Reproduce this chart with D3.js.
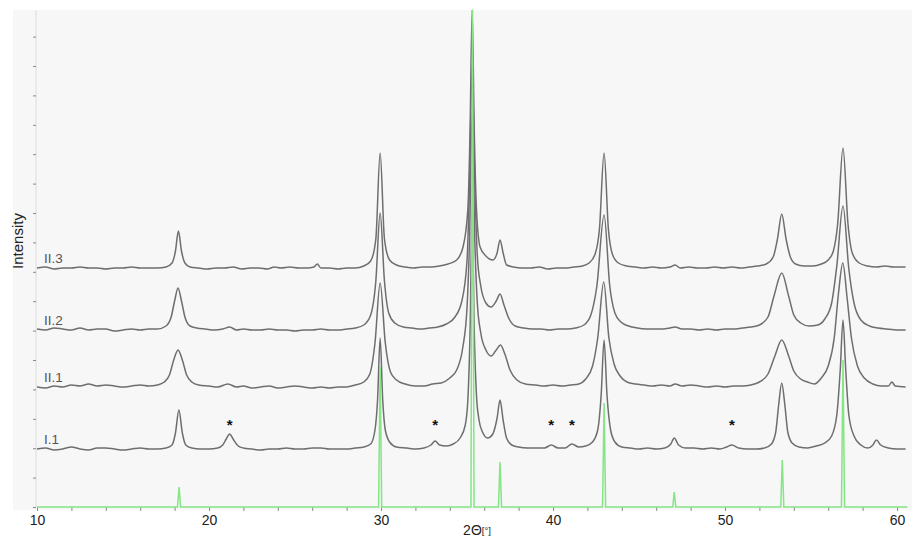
<!DOCTYPE html>
<html>
<head>
<meta charset="utf-8">
<script src="https://cdn.jsdelivr.net/npm/d3@7"></script>
<style>
  body { margin: 0; background: #fff; }
  svg { display: block; font-family: "Liberation Sans", Arial, sans-serif; }
</style>
</head>
<body>
<div id="chart"></div>
<script>
const width = 912;
const height = 539;

// series names and their vertical offsets (intensity units above the reference baseline)
const seriesNames = ["I.1", "II.1", "II.2", "II.3"];
const seriesOffsets = [57, 119, 176, 238];

// [2theta, intensity above own baseline]
const dataI1 = [[10,1],[10.5,2],[11,0],[11.5,1],[12,3],[12.5,1],[13,0],[13.5,2],[14,2],[14.5,1],[15,0],[15.5,1],[16,2],[16.5,1],[17,1],[17.5,2],
  [17.85,5],[18.05,17],[18.25,40],[18.45,17],[18.65,5],[19,2],[19.5,1],[20,1],[20.5,2],
  [20.8,5],[21.0,11],[21.2,16],[21.4,11],[21.7,4],[22,2],[22.5,1],[23,0],[23.5,1],[24,1],[24.5,2],[25,1],[25.5,1],[26,2],[26.5,2],[27,1],[27.5,1],[28,1],[28.5,2],[29,3],[29.4,6],
  [29.65,20],[29.8,50],[29.95,112],[30.1,50],[30.25,20],[30.5,8],[30.9,3],[31.5,2],[32,1],[32.5,2],[32.9,5],[33.15,9],[33.4,5],[33.8,4],[34.2,6],[34.6,12],[34.9,25],
  [35.05,50],[35.18,120],[35.3,243],[35.42,120],[35.55,55],[35.7,30],[35.9,18],[36.2,12],[36.5,16],[36.75,32],[36.92,50],[37.1,30],[37.3,12],[37.6,5],[38,3],[38.5,2],[39,2],[39.5,2],
  [39.9,5],[40.3,2],[40.7,2],[41.1,6],[41.5,3],[41.9,4],[42.3,8],[42.6,20],[42.8,55],[42.97,110],[43.14,55],[43.35,20],[43.6,8],[44,3],[44.5,2],[45,1],[45.5,2],[46,1],[46.5,2],
  [46.85,6],[47.05,12],[47.3,5],[47.7,2],[48.2,2],[48.7,1],[49.2,2],[49.7,1],[50.1,3],[50.4,5],[50.8,2],[51.3,1],[51.8,1],[52.3,2],[52.7,6],[52.95,18],[53.12,45],[53.3,67],
  [53.48,45],[53.65,18],[53.9,7],[54.3,3],[54.8,2],[55.3,4],[55.8,7],[56.2,14],[56.5,35],[56.7,80],[56.86,130],[57.02,80],[57.2,35],[57.5,14],[57.9,5],[58.3,2],[58.6,5],
  [58.8,10],[59.05,5],[59.5,2],[60,1],[60.5,1]];

const dataII1 = [[10,1],[10.5,0],[11,2],[11.5,1],[12,3],[12.5,2],[13,4],[13.5,2],[14,3],[14.5,2],[15,1],[15.5,2],[16,3],[16.5,2],[17,3],[17.4,6],[17.7,13],[17.95,28],[18.2,38],
  [18.45,28],[18.7,13],[19,6],[19.4,3],[20,2],[20.5,1],[21.1,4],[21.6,1],[22,2],[22.5,0],[23,1],[23.5,2],[24,0],[24.5,1],[25,2],[25.5,1],[26,0],[26.5,1],[27,0],[27.5,1],[28,1],
  [28.5,3],[29,6],[29.35,14],[29.65,45],[29.95,105],[30.25,45],[30.55,16],[30.9,8],[31.4,4],[32,2],[32.5,2],[33,4],[33.5,5],[34,10],[34.4,18],[34.75,40],[35.0,80],[35.15,150],
  [35.3,275],[35.45,150],[35.6,85],[35.8,55],[36.1,38],[36.4,32],[36.7,38],[36.95,43],[37.2,34],[37.5,18],[37.9,8],[38.4,4],[39,3],[39.5,2],[40,3],[40.5,2],[41,3],[41.5,4],
  [41.9,9],[42.3,22],[42.6,50],[42.95,106],[43.25,50],[43.55,24],[43.9,12],[44.3,6],[44.8,4],[45.3,3],[45.8,2],[46.3,3],[46.8,2],[47.1,4],[47.5,2],[48,3],[48.5,2],[49,1],
  [49.5,2],[50,1],[50.5,2],[51,2],[51.5,3],[52,6],[52.5,14],[52.9,32],[53.3,48],[53.7,32],[54.0,17],[54.4,9],[54.8,6],[55.2,4],[55.6,10],[56.0,22],[56.35,50],[56.6,95],
  [56.85,125],[57.1,90],[57.35,50],[57.7,22],[58.1,10],[58.6,4],[59.1,2],[59.5,2],[59.7,6],[59.9,2],[60.5,1]];

const dataII2 = [[10,2],[10.5,1],[11,3],[11.5,2],[12,1],[12.5,3],[13,1],[13.5,2],[14,2],[14.5,0],[15,1],[15.5,2],[16,1],[16.5,2],[17,2],[17.5,5],[17.8,14],[18.0,30],[18.2,43],
  [18.4,30],[18.6,14],[18.9,5],[19.3,3],[19.8,2],[20.3,1],[20.8,2],[21.2,4],[21.6,1],[22,2],[22.5,1],[23,1],[23.5,2],[24,1],[24.5,1],[25,0],[25.5,1],[26,1],[26.5,2],[27,1],
  [27.5,1],[28,2],[28.5,3],[29,6],[29.4,16],[29.7,50],[29.95,118],[30.2,50],[30.45,18],[30.8,8],[31.3,4],[31.8,3],[32.3,2],[32.8,3],[33.3,4],[33.8,7],[34.3,14],[34.7,30],
  [35.0,70],[35.15,150],[35.3,266],[35.45,150],[35.6,75],[35.8,45],[36.1,28],[36.4,24],[36.7,30],[36.92,37],[37.15,26],[37.45,12],[37.8,5],[38.3,3],[38.8,2],[39.3,2],[39.8,1],
  [40.3,2],[40.8,2],[41.3,3],[41.8,6],[42.2,16],[42.55,45],[42.97,116],[43.3,45],[43.6,18],[43.95,9],[44.4,5],[44.9,3],[45.4,2],[45.9,2],[46.4,2],[46.8,3],[47.1,4],[47.5,2],
  [48,2],[48.5,1],[49,2],[49.5,1],[50,2],[50.5,2],[51,3],[51.5,4],[52,6],[52.5,14],[52.85,35],[53.3,58],[53.7,35],[54.0,16],[54.4,8],[54.9,5],[55.4,6],[55.8,12],[56.2,28],
  [56.5,65],[56.86,125],[57.2,62],[57.5,28],[57.9,11],[58.4,5],[58.9,3],[59.4,2],[60,1],[60.5,1]];

const dataII3 = [[10,1],[10.5,2],[11,0],[11.5,1],[12,1],[12.5,2],[13,1],[13.5,1],[14,0],[14.5,1],[15,1],[15.5,2],[16,1],[16.5,1],[17,1],[17.5,2],[17.85,6],[18.05,18],[18.22,38],
  [18.4,18],[18.6,6],[18.9,2],[19.4,1],[19.9,0],[20.4,1],[20.9,1],[21.4,2],[21.9,0],[22.4,1],[22.9,1],[23.4,0],[23.8,2],[24.2,1],[24.7,2],[25.2,1],[25.7,1],[26.1,2],[26.3,5],
  [26.5,1],[27,1],[27.5,0],[28,1],[28.5,1],[29,3],[29.4,8],[29.7,30],[29.95,116],[30.2,30],[30.5,9],[30.9,4],[31.4,2],[31.9,1],[32.4,2],[32.9,2],[33.4,3],[33.9,5],[34.4,9],
  [34.77,22],[35.05,60],[35.18,140],[35.3,259],[35.42,140],[35.55,60],[35.76,22],[36.1,13],[36.5,9],[36.75,16],[36.92,29],[37.1,16],[37.3,4],[37.7,2],[38.2,1],[38.7,1],[39.2,2],
  [39.7,0],[40.2,1],[40.7,1],[41.2,2],[41.7,3],[42.1,6],[42.45,15],[42.7,40],[42.97,116],[43.22,40],[43.45,15],[43.8,6],[44.3,3],[44.8,2],[45.3,1],[45.8,2],[46.3,1],[46.8,2],
  [47.1,4],[47.4,1],[47.9,2],[48.4,1],[48.9,1],[49.4,2],[49.9,1],[50.4,2],[50.9,1],[51.4,2],[51.9,3],[52.4,5],[52.8,12],[53.05,30],[53.3,55],[53.55,30],[53.8,12],[54.1,5],
  [54.6,3],[55.1,3],[55.6,5],[56.0,9],[56.3,18],[56.55,45],[56.86,121],[57.15,45],[57.4,16],[57.8,6],[58.3,3],[58.8,2],[59.3,3],[59.8,2],[60.5,2]];

// reference pattern (green sticks): position, intensity
const refPos = [18.26, 29.95, 35.32, 36.92, 42.97, 47.05, 53.33, 56.86];
const refInt = [20, 140, 497, 45, 104, 15, 47, 147];

// impurity markers on I.1
const starPos = [21.2, 33.15, 39.9, 41.1, 50.4];

const xTickValues = [10,12,14,16,18,20,22,24,26,28,30,32,34,36,38,40,42,44,46,48,50,52,54,56,58,60];
const xLabelValues = [10, 20, 30, 40, 50, 60];
const yTickValues = [0,29.4,58.8,88.2,117.6,147,176.4,205.8,235.2,264.6,294,323.4,352.8,382.2,411.6,441,470.4];

const x = d3.scaleLinear().domain([10, 60]).range([37, 897]);
const y = d3.scaleLinear().domain([0, 497]).range([507, 10]);

const svg = d3.select("#chart")
    .append("svg")
    .attr("width", width)
    .attr("height", height);

// panel background
svg.append("rect")
    .attr("x", 13)
    .attr("y", 10)
    .attr("width", width - 13)
    .attr("height", 500)
    .attr("fill", "#f7f7f7");

svg.append("clipPath")
    .attr("id", "plotClip")
    .append("rect")
    .attr("x", 36)
    .attr("y", 9)
    .attr("width", width - 36)
    .attr("height", 502);

// left axis line + little ticks
svg.append("line")
    .attr("x1", 36).attr("x2", 36)
    .attr("y1", 10).attr("y2", y(0))
    .attr("stroke", "#dcdcdc")
    .attr("stroke-width", 1);

const yAxis = svg.append("g")
    .attr("transform", "translate(36,0)")
    .call(d3.axisLeft(y).tickValues(yTickValues).tickSize(3).tickFormat(""));
yAxis.select(".domain").remove();
yAxis.selectAll(".tick line").attr("stroke", "#8a8a8a");

// bottom axis
const xAxis = svg.append("g")
    .attr("transform", `translate(0,${y(0)})`)
    .call(d3.axisBottom(x)
        .tickValues(xTickValues)
        .tickSize(4)
        .tickPadding(4)
        .tickFormat(d => xLabelValues.includes(d) ? d : ""));
xAxis.select(".domain").remove();
xAxis.selectAll(".tick line").attr("stroke", "#8a8a8a");
xAxis.selectAll(".tick text")
    .attr("fill", "#222")
    .attr("font-size", "14px")
    .attr("font-family", "'Liberation Sans', Arial, sans-serif");

// gray patterns
const allSeries = [dataI1, dataII1, dataII2, dataII3];
const plot = svg.append("g").attr("clip-path", "url(#plotClip)");

allSeries.forEach((data, i) => {
    const off = seriesOffsets[i];
    const line = d3.line()
        .x(d => x(d[0]))
        .y(d => y(d[1] + off))
        .curve(d3.curveMonotoneX);
    plot.append("path")
        .datum(data)
        .attr("fill", "none")
        .attr("stroke", "#6e6e6e")
        .attr("stroke-width", 1.5)
        .attr("d", line);

    svg.append("text")
        .attr("x", x(10.4))
        .attr("y", y(off + 6))
        .attr("font-size", "13.5px")
        .attr("fill", "#555")
        .text(seriesNames[i]);
});

// reference sticks in green
const refPoints = [[10, 0]];
refPos.forEach((p, i) => {
    refPoints.push([p - 0.09, 0], [p, refInt[i]], [p + 0.09, 0]);
});
refPoints.push([60.6, 0]);

plot.append("path")
    .datum(refPoints)
    .attr("fill", "none")
    .attr("stroke", "#85e585")
    .attr("stroke-width", 1.5)
    .attr("d", d3.line().x(d => x(d[0])).y(d => y(d[1])));

// asterisks
svg.selectAll(".star")
    .data(starPos)
    .enter()
    .append("text")
    .attr("class", "star")
    .attr("x", d => x(d))
    .attr("y", y(seriesOffsets[0] + 20))
    .attr("text-anchor", "middle")
    .attr("font-size", "15px")
    .attr("font-weight", "bold")
    .attr("fill", "#111")
    .text("*");

// axis titles
svg.append("text")
    .attr("transform", "translate(23,241) rotate(-90)")
    .attr("text-anchor", "middle")
    .attr("font-size", "15px")
    .attr("fill", "#222")
    .text("Intensity");

const xt = svg.append("text")
    .attr("x", 477)
    .attr("y", 535)
    .attr("text-anchor", "middle")
    .attr("fill", "#222");
xt.append("tspan").attr("font-size", "14px").text("2Θ");
xt.append("tspan").attr("font-size", "9.5px").attr("dy", "-1").text("[°]");
</script>
</body>
</html>
